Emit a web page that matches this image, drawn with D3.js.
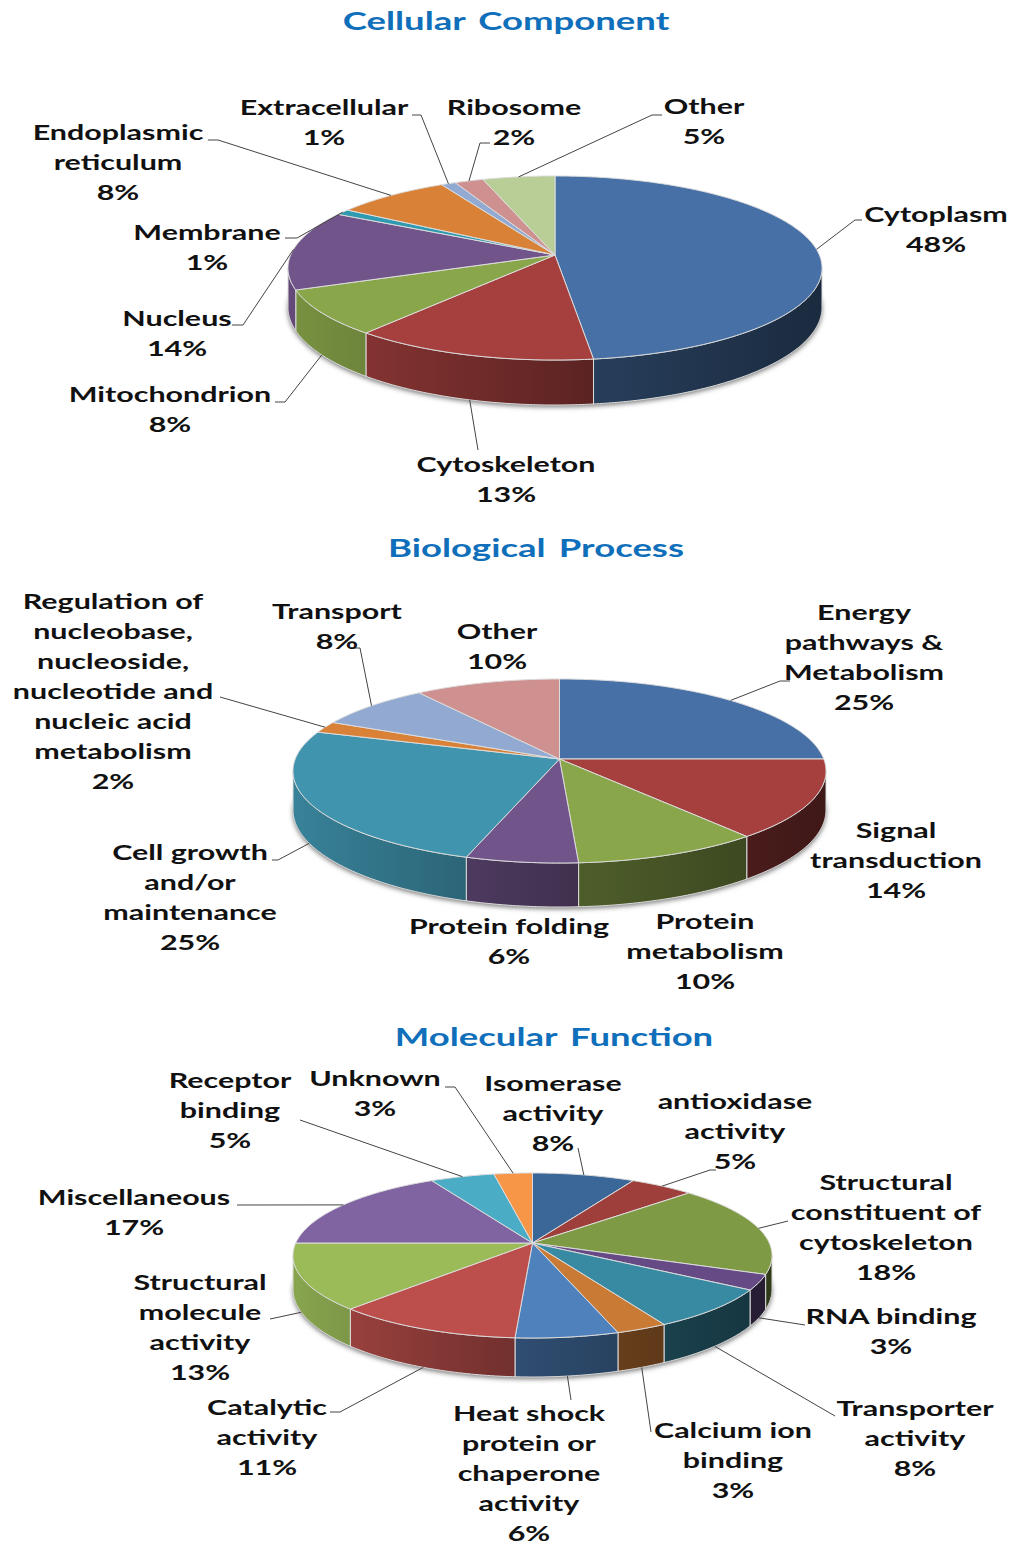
<!DOCTYPE html>
<html>
<meta charset="utf-8">
<style>

body {
  margin: 0;
  background: #fff;
}

text {
  font-family: Lato, "Open Sans", sans-serif;
  font-weight: 700;
  fill: #111;
}

.title {
  fill: #0f6fba;
  word-spacing: 3px;
}

.leader {
  fill: none;
  stroke: #444;
  stroke-width: 1;
}

.edge {
  stroke: #dcdcdc;
  stroke-width: 1;
  stroke-linejoin: round;
}

</style>
<body>
<script src="https://d3js.org/d3.v7.min.js"></script>
<script>

// cellular component
var ccCategories = ["Cytoplasm", "Cytoskeleton", "Mitochondrion", "Nucleus", "Membrane", "Endoplasmic\nreticulum", "Extracellular", "Ribosome", "Other"];
var ccValues = [48, 13, 8, 14, 1, 8, 1, 2, 5];
var ccColors = ["#4670a6", "#a5403e", "#8aa64a", "#71548a", "#2f9ab0", "#d98137", "#92a9d2", "#cf9090", "#b9cd96"];
var ccLabelX = [936, 506, 170, 177, 207, 118, 324, 514, 704];
var ccLabelY = [214, 464, 394, 318, 232, 132, 107, 107, 106];
var ccLeaders = [
  [[855, 220], [862, 220]],
  [[478, 450]],
  [[285, 402], [275, 402]],
  [[243, 325], [232, 325]],
  [[297, 238], [285, 238]],
  [[218, 140], [208, 140]],
  [[421, 115], [412, 115]],
  [[480, 143], [490, 143]],
  [[652, 115], [662, 115]]
];

// biological process
var bpCategories = ["Energy\npathways &\nMetabolism", "Signal\ntransduction", "Protein\nmetabolism", "Protein folding", "Cell growth\nand/or\nmaintenance", "Regulation of\nnucleobase,\nnucleoside,\nnucleotide and\nnucleic acid\nmetabolism", "Transport", "Other"];
var bpValues = [25, 14, 10, 6, 25, 2, 8, 10];
var bpColors = ["#4670a6", "#a5403e", "#8aa64a", "#71548a", "#4094ae", "#d98137", "#92a9d2", "#cf9090"];
var bpLabelX = [864, 896, 705, 509, 190, 113, 337, 497];
var bpLabelY = [612, 830, 921, 926, 852, 601, 611, 631];
var bpLeaders = [
  [[780, 681], [790, 681]],
  null,
  null,
  null,
  [[278, 860], [272, 860]],
  [[220, 697]],
  [[360, 648], [351, 648]],
  null
];

// molecular function
var mfCategories = ["Isomerase\nactivity", "antioxidase\nactivity", "Structural\nconstituent of\ncytoskeleton", "RNA binding", "Transporter\nactivity", "Calcium ion\nbinding", "Heat shock\nprotein or\nchaperone\nactivity", "Catalytic\nactivity", "Structural\nmolecule\nactivity", "Miscellaneous", "Receptor\nbinding", "Unknown"];
var mfValues = [8, 5, 18, 3, 8, 3, 6, 11, 13, 17, 5, 3];
var mfColors = ["#3a6698", "#9e3f3c", "#7f9a45", "#654a85", "#388aa3", "#c97a35", "#4f81bd", "#bc4f4c", "#9bbb59", "#8064a2", "#4bacc6", "#f79646"];
var mfLabelX = [553, 735, 886, 891, 915, 733, 529, 267, 200, 134, 230, 375];
var mfLabelY = [1083, 1101, 1182, 1316, 1408, 1430, 1413, 1407, 1282, 1197, 1080, 1078];
var mfLeaders = [
  [[578, 1148]],
  [[710, 1170], [716, 1170]],
  [[788, 1221]],
  [[805, 1325]],
  [[835, 1416]],
  [[651, 1432]],
  [[571, 1400]],
  [[340, 1412], [330, 1412]],
  [[270, 1319]],
  [[237, 1205]],
  [[300, 1120]],
  [[455, 1087], [445, 1087]]
];

var width = 1012,
    height = 1546,
    lineHeight = 30,
    textStretch = 1.45,
    titleStretch = 1.46;

var svg = d3.select("body").append("svg")
    .attr("width", width)
    .attr("height", height)
    .style("display", "block");

var defs = svg.append("defs");

defs.append("filter")
    .attr("id", "soft")
    .attr("x", "-10%")
    .attr("y", "-10%")
    .attr("width", "120%")
    .attr("height", "120%")
  .append("feGaussianBlur")
    .attr("stdDeviation", 2.5);

var line = d3.line();

// brightness of the side wall, going from the left of the pie to the right
var shade = d3.scaleLinear()
    .domain([-1, 0, 1])
    .range([0.88, 0.58, 0.38]);

function darken(color, f) {
  var c = d3.rgb(color);
  return d3.rgb(c.r * f, c.g * f, c.b * f).formatHex();
}

function drawPie(id, title, titleX, titleY, geom, categories, values, colors, labelX, labelY, leaders) {

  // perspective: the apex sits above the middle of the ellipse
  var b = 2 * geom.up * geom.down / (geom.up + geom.down),
      k = (geom.down - geom.up) / (geom.down + geom.up),
      a = geom.rx * Math.sqrt(1 - k * k),
      d0 = geom.depth * (1 - k);

  function rim(angle, drop) {
    var X = Math.sin(angle),
        Y = -Math.cos(angle),
        w = 1 - k * Y;
    return [geom.cx + a * X / w, geom.cy + b * Y / w + (drop ? d0 / w : 0)];
  }

  function arcPoints(a0, a1, drop) {
    var n = Math.max(2, Math.ceil((a1 - a0) / 0.01));
    return d3.range(n + 1).map(function(i) {
      return rim(a0 + (a1 - a0) * i / n, drop);
    });
  }

  var arcs = d3.pie().sort(null)(values);

  var g = svg.append("g").attr("id", id);

  var frontStart = Math.acos(-k),
      frontEnd = 2 * Math.PI - frontStart;

  // shadow
  g.append("path")
      .attr("d", line(arcPoints(frontStart - 0.25, frontEnd + 0.25, true)) + "Z")
      .attr("transform", "translate(0,2)")
      .attr("fill", "#777")
      .attr("filter", "url(#soft)");

  // side walls, front half only
  var walls = arcs.map(function(d, i) {
    return {
      a0: Math.max(d.startAngle, frontStart),
      a1: Math.min(d.endAngle, frontEnd),
      color: colors[i],
      index: i
    };
  }).filter(function(d) { return d.a1 > d.a0; });

  walls.forEach(function(d) {
    var x0 = rim(d.a0)[0],
        x1 = rim(d.a1)[0],
        grad = defs.append("linearGradient")
          .attr("id", id + "-wall-" + d.index)
          .attr("gradientUnits", "userSpaceOnUse")
          .attr("x1", x1)
          .attr("x2", x0)
          .attr("y1", 0)
          .attr("y2", 0);
    grad.append("stop")
        .attr("offset", 0)
        .attr("stop-color", darken(d.color, shade((x1 - geom.cx) / geom.rx)));
    grad.append("stop")
        .attr("offset", 1)
        .attr("stop-color", darken(d.color, shade((x0 - geom.cx) / geom.rx)));
  });

  g.selectAll(".wall")
      .data(walls)
    .enter().append("path")
      .attr("class", "wall edge")
      .attr("fill", function(d) { return "url(#" + id + "-wall-" + d.index + ")"; })
      .attr("d", function(d) {
        return line(arcPoints(d.a0, d.a1, false).concat(arcPoints(d.a0, d.a1, true).reverse())) + "Z";
      });

  // top face
  g.selectAll(".slice")
      .data(arcs)
    .enter().append("path")
      .attr("class", "slice edge")
      .attr("fill", function(d, i) { return colors[i]; })
      .attr("d", function(d) {
        return line([[geom.cx, geom.cy]].concat(arcPoints(d.startAngle, d.endAngle, false))) + "Z";
      });

  // leader lines start on the rim at the middle of the slice
  arcs.forEach(function(d, i) {
    if (!leaders[i]) return;
    var mid = (d.startAngle + d.endAngle) / 2,
        front = -Math.cos(mid) > k;
    g.append("path")
        .attr("class", "leader")
        .attr("d", line([rim(mid, front)].concat(leaders[i])));
  });

  // labels
  categories.forEach(function(name, i) {
    var lines = name.split("\n").concat(values[i] + "%");
    lines.forEach(function(s, j) {
      g.append("text")
          .attr("transform", "translate(" + labelX[i] + "," + (labelY[i] + j * lineHeight + 8) + ") scale(" + textStretch + ",1)")
          .attr("text-anchor", "middle")
          .style("font-size", "21px")
          .text(s);
    });
  });

  g.append("text")
      .attr("class", "title")
      .attr("transform", "translate(" + titleX + "," + (titleY + 9) + ") scale(" + titleStretch + ",1)")
      .attr("text-anchor", "middle")
      .style("font-size", "25px")
      .text(title);
}

drawPie("cc", "Cellular Component", 506, 21,
    {cx: 555, cy: 255, up: 79, down: 105, rx: 267, depth: 45},
    ccCategories, ccValues, ccColors, ccLabelX, ccLabelY, ccLeaders);

drawPie("bp", "Biological Process", 536, 548,
    {cx: 559.5, cy: 759, up: 80, down: 104, rx: 266.5, depth: 44},
    bpCategories, bpValues, bpColors, bpLabelX, bpLabelY, bpLeaders);

drawPie("mf", "Molecular Function", 554, 1037,
    {cx: 532.5, cy: 1243, up: 70, down: 95, rx: 239.5, depth: 39},
    mfCategories, mfValues, mfColors, mfLabelX, mfLabelY, mfLeaders);

</script>
</body>
</html>
